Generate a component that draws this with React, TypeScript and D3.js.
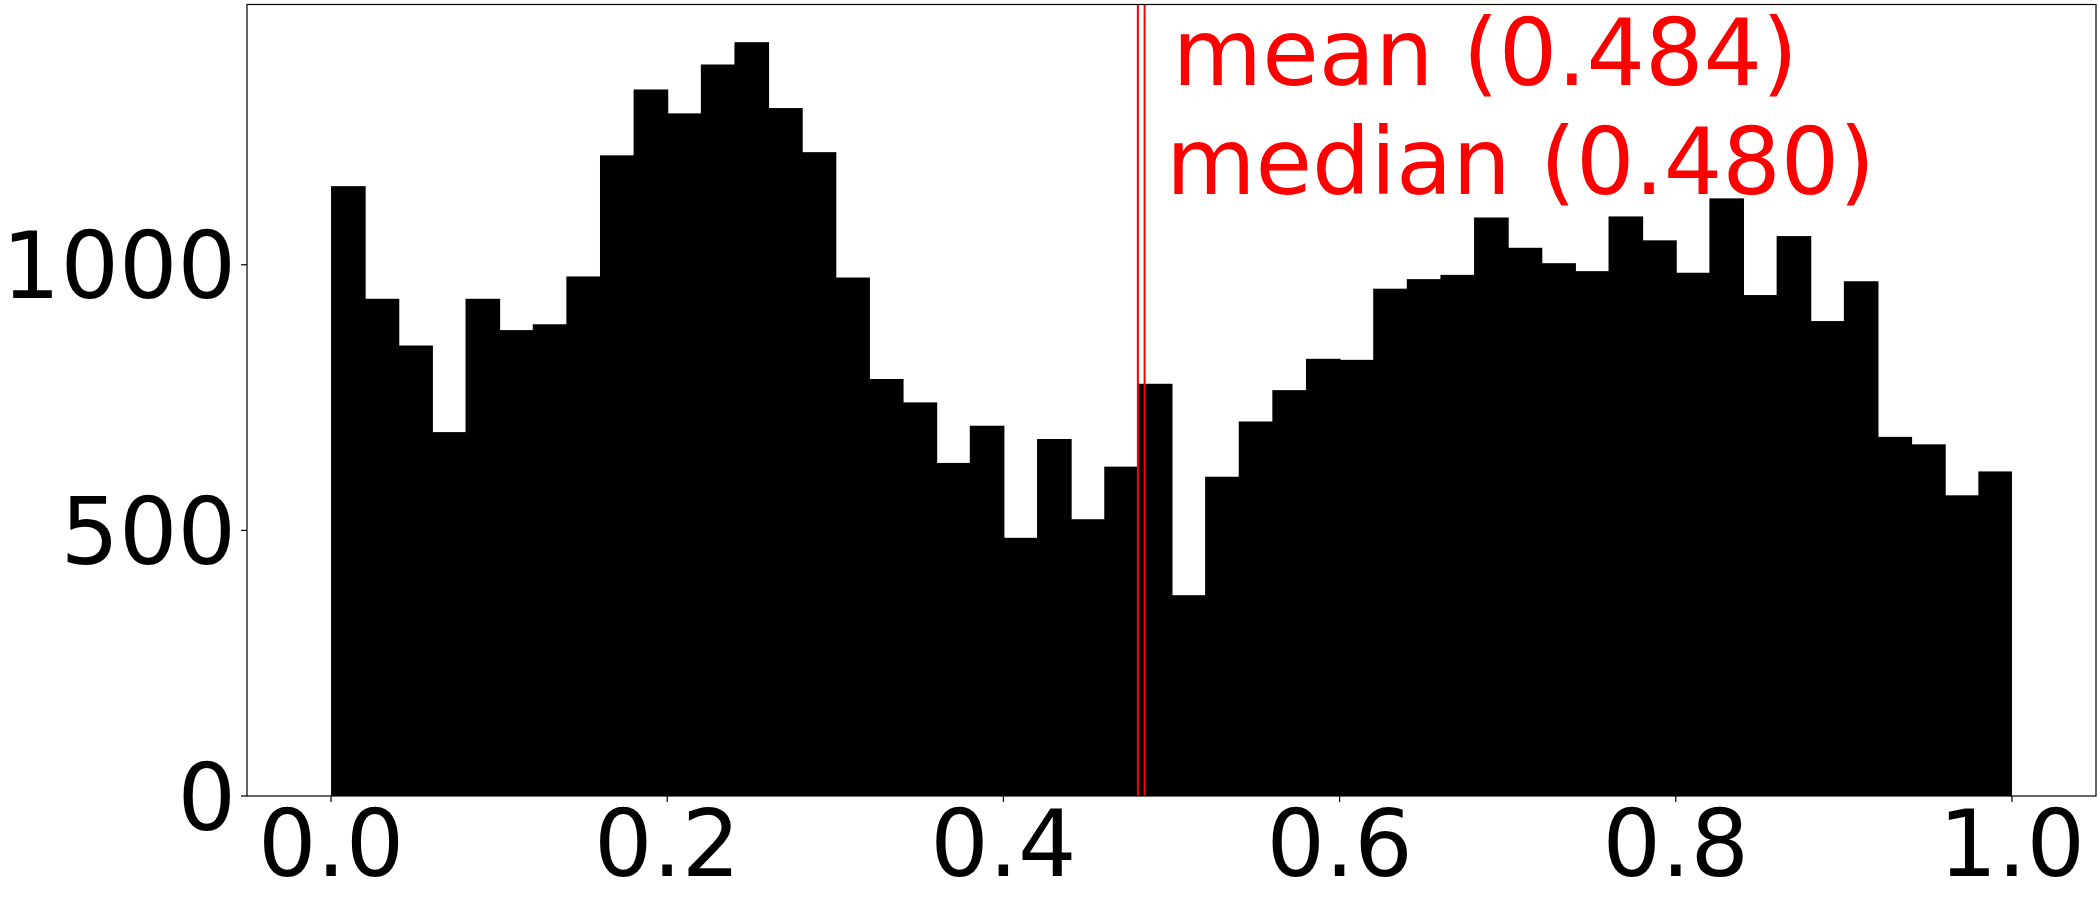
import React from 'react';
import * as d3 from 'd3';

// histogram counts, 50 equal bins over [0, 1]
const counts = [
  1148, 936, 848, 685, 936, 877, 888, 978, 1206, 1330,
  1285, 1377, 1419, 1295, 1212, 976, 785, 741, 627, 697,
  486, 672, 521, 620, 776, 378, 601, 705, 764, 823,
  821, 955, 973, 981, 1089, 1032, 1003, 988, 1091, 1046,
  985, 1125, 943, 1054, 894, 969, 676, 662, 566, 611,
];
const binLo = 0;
const binHi = 1;

const meanValue = 0.484;
const medianValue = 0.48;

const xTicks = [0, 0.2, 0.4, 0.6, 0.8, 1.0];
const yTicks = [0, 500, 1000];

const App = () => {
  const svgWidth = 2100,
    svgHeight = 900;
  const margin = { top: 4.5, right: 4, bottom: 104, left: 247 };
  const width = svgWidth - margin.left - margin.right;
  const height = svgHeight - margin.top - margin.bottom;

  const step = (binHi - binLo) / counts.length;
  const bins = counts.map((c, i) => ({
    x0: binLo + i * step,
    x1: binLo + (i + 1) * step,
    count: c,
  }));

  // matplotlib-style 5% padding on x, sticky zero on y
  const pad = (binHi - binLo) * 0.05;
  const x = d3.scaleLinear().domain([binLo - pad, binHi + pad]).range([0, width]);
  const y = d3
    .scaleLinear()
    .domain([0, (d3.max(counts) || 0) * 1.05])
    .range([height, 0]);

  const fontSize = 92;
  const font = 'DejaVu Sans';

  return (
    <svg
      width={svgWidth}
      height={svgHeight}
      style={{ position: 'absolute', left: 0, top: 0, background: '#fff' }}
      fontFamily={font}
    >
      <g transform={'translate(' + margin.left + ',' + margin.top + ')'}>
        {bins.map((b, i) => (
          <rect
            key={i}
            x={x(b.x0)}
            y={y(b.count)}
            width={x(b.x1) - x(b.x0) + (i < bins.length - 1 ? 1 : 0)}
            height={height - y(b.count)}
            fill="#000"
          />
        ))}

        <line x1={x(medianValue)} x2={x(medianValue)} y1={0} y2={height} stroke="red" strokeWidth={2} />
        <line x1={x(meanValue)} x2={x(meanValue)} y1={0} y2={height} stroke="red" strokeWidth={2} />

        <text x={x(meanValue) + 28} y={80} fill="red" fontSize={fontSize}>
          {'mean (' + meanValue.toFixed(3) + ')'}
        </text>
        <text x={x(medianValue) + 28} y={189.5} fill="red" fontSize={fontSize}>
          {'median (' + medianValue.toFixed(3) + ')'}
        </text>

        {/* frame */}
        <rect x={0} y={0} width={width} height={height} fill="none" stroke="#000" strokeWidth={1.2} />

        {xTicks.map((t) => (
          <g key={'x' + t} transform={'translate(' + x(t) + ',' + height + ')'}>
            <line y1={0} y2={6} stroke="#000" strokeWidth={1.2} />
            <text y={80} textAnchor="middle" fontSize={fontSize} fill="#000">
              {t.toFixed(1)}
            </text>
          </g>
        ))}

        {yTicks.map((t) => (
          <g key={'y' + t} transform={'translate(0,' + y(t) + ')'}>
            <line x1={-6} x2={0} stroke="#000" strokeWidth={1.2} />
            <text x={-11} dy={33.5} textAnchor="end" fontSize={fontSize} fill="#000">
              {t}
            </text>
          </g>
        ))}
      </g>
    </svg>
  );
};

export default App;
